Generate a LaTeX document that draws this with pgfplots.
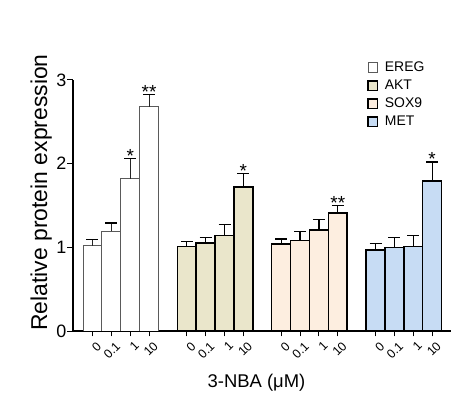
\documentclass[border=0pt]{standalone}
\usepackage{pgfplots}
\pgfplotsset{compat=1.18}
\usepackage{fontspec}
\setmainfont{Liberation Sans}
\definecolor{aktc}{RGB}{234,230,203}
\definecolor{soxc}{RGB}{253,238,224}
\definecolor{metc}{RGB}{199,220,244}
\definecolor{eregb}{RGB}{90,90,90}
\begin{document}
\begin{tikzpicture}
\useasboundingbox (0,0) rectangle (453bp,394bp);
\begin{axis}[
  at={(73bp,63bp)}, anchor=south west,
  scale only axis, width=378bp, height=251bp,
  xmin=-1.03, xmax=19, ymin=0, ymax=3,
  axis lines=left, axis line style={-, line width=1.2bp},
  ybar, bar width=1, bar shift=0pt,
  ytick={0,1,2,3},
  xtick={0,1,2,3,5,6,7,8,10,11,12,13,15,16,17,18},
  xticklabels={0,0.1,1,10,0,0.1,1,10,0,0.1,1,10,0,0.1,1,10},
  tick align=outside, major tick length=5.5bp,
  tick style={line width=1bp, black},
  /pgf/number format/assume math mode=true,
  yticklabel style={font=\fontsize{18}{20}\selectfont, inner sep=1bp},
  xticklabel style={font=\fontsize{12.5}{14}\selectfont, rotate=45, anchor=north east, inner sep=0bp, yshift=-5.5bp, xshift=-0.5bp},
  error bars/y dir=plus, error bars/y explicit,
  error bars/error bar style={line width=1.2bp, black},
  error bars/error mark options={rotate=90, mark size=6bp, line width=1.2bp, black},
  legend style={draw=none, fill=none, at={(axis description cs:0.778,1.078)}, anchor=north west,
    font=\fontsize{14}{16}\selectfont, row sep=3.8bp, column sep=5bp, inner sep=0pt,
    nodes={inner sep=1.5bp}},
  legend cell align=left,
  legend image code/.code={\draw[#1] (0bp,-4.8bp) rectangle (9.6bp,4.8bp);},
]
\addplot[fill=white, draw=eregb, line width=0.9bp, error bars/error bar style={line width=1.1bp, black!85}] coordinates {
  (0,1.02) +- (0,0.07) (1,1.19) +- (0,0.10) (2,1.82) +- (0,0.24) (3,2.68) +- (0,0.15)};
\addlegendentry{EREG}
\addplot[fill=aktc, draw=black, line width=1.5bp] coordinates {
  (5,1.01) +- (0,0.06) (6,1.05) +- (0,0.07) (7,1.14) +- (0,0.13) (8,1.72) +- (0,0.16)};
\addlegendentry{AKT}
\addplot[fill=soxc, draw=black, line width=1.5bp] coordinates {
  (10,1.04) +- (0,0.06) (11,1.08) +- (0,0.11) (12,1.21) +- (0,0.12) (13,1.41) +- (0,0.09)};
\addlegendentry{SOX9}
\addplot[fill=metc, draw=black, line width=1.5bp] coordinates {
  (15,0.97) +- (0,0.08) (16,1.00) +- (0,0.12) (17,1.01) +- (0,0.13) (18,1.79) +- (0,0.23)};
\addlegendentry{MET}
\node[anchor=base, inner sep=0pt, yshift=-4bp, font=\fontsize{19}{19}\selectfont] at (axis cs:2,2.06) {*};
\node[anchor=base, inner sep=0pt, yshift=-4bp, font=\fontsize{19}{19}\selectfont] at (axis cs:3,2.83) {**};
\node[anchor=base, inner sep=0pt, yshift=-4bp, font=\fontsize{19}{19}\selectfont] at (axis cs:8,1.88) {*};
\node[anchor=base, inner sep=0pt, yshift=-4bp, font=\fontsize{19}{19}\selectfont] at (axis cs:13,1.50) {**};
\node[anchor=base, inner sep=0pt, yshift=-4bp, font=\fontsize{19}{19}\selectfont] at (axis cs:18,2.02) {*};
\end{axis}
\node[rotate=90, anchor=base, inner sep=0pt, font=\fontsize{23}{25}\selectfont] at (47bp,201.5bp) {Relative protein expression};
\node[anchor=base, inner sep=0pt, font=\fontsize{18.5}{20}\selectfont] at (256.5bp,7bp) {3-NBA (μM)};
\end{tikzpicture}
\end{document}
